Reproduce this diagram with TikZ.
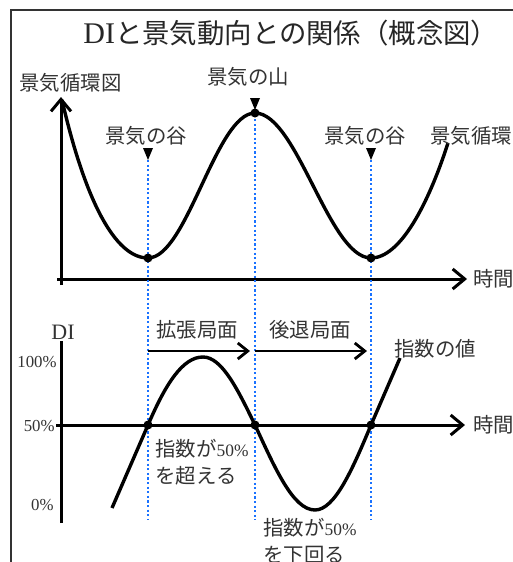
\documentclass[tikz,border=0pt]{standalone}
\usepackage{fontspec}
\setmainfont{Liberation Serif}
\newfontfamily\jp{Noto Sans CJK JP}
\usepackage{xcolor}
\usetikzlibrary{arrows.meta}

\definecolor{guide}{HTML}{1A72FF}
\newcommand{\latn}[1]{{\rmfamily\fontsize{8.7}{13.5}\selectfont #1}}

\begin{document}
\begin{tikzpicture}[
    x=0.5pt, y=-0.5pt,
    lbl/.style={font=\jp\fontsize{10.2}{13.5}\selectfont, text=black!80, inner sep=0pt, anchor=west},
    tick/.style={font=\fontsize{8.4}{10}\selectfont, text=black!80, inner sep=0pt, anchor=east},
    axis/.style={line width=1.5pt, -{Straight Barb[length=6pt, width=10pt]}},
    curve/.style={line width=1.7pt},
    dot/.style={circle, fill, inner sep=0pt, minimum size=4.5pt},
    guideline/.style={guide, line width=1.3pt, dash pattern=on 1.1pt off 1.2pt},
    phase/.style={line width=1.4pt, -{Straight Barb[length=5pt, width=8pt]}},
]
\clip (0,0) rectangle (513,562);
\draw[black!80, line width=0.7pt] (11,10) rectangle (600,620);

% Title
\node[inner sep=0pt, anchor=west, text=black!85] (title) at (83,33)
  {\fontsize{15}{18}\selectfont DI\jp\fontsize{13.7}{18}\selectfont と景気動向との関係（概念図）};

% Upper chart: business cycle
\coordinate (ty0) at (61,285);
\coordinate (ty1) at (61,97);
\coordinate (tx0) at (57,279);
\coordinate (tx1) at (467,279);
\draw[axis] (ty0) -- (ty1);
\draw[axis] (tx0) -- (tx1);
\node[lbl] (cyc) at (19,83) {景気循環図};
\node[lbl] (time1) at (473,279) {時間};

\coordinate (s1) at (62,100);
\coordinate (v1) at (148,258);
\coordinate (p1) at (255,113);
\coordinate (v2) at (371,258);
\coordinate (e1) at (448,143);
\draw[curve] (s1) .. controls (85,200) and (115,258) .. (v1)
  .. controls (187,258) and (216,113) .. (p1)
  .. controls (297,113) and (329,258) .. (v2)
  .. controls (400,258) and (428,205) .. (e1);
\node[lbl] (cyc2) at (430,136) {景気循環};

\node[lbl] (valley1) at (105,136) {景気の谷};
\node[lbl] (peak) at (207,77) {景気の山};
\node[lbl] (valley2) at (324,136) {景気の谷};

% markers and guide lines
\coordinate (m1) at (148,160);
\coordinate (m2) at (255,110);
\coordinate (m3) at (371,160);
\coordinate (d1) at (148,520);
\coordinate (d2) at (255,520);
\coordinate (d3) at (371,520);
\foreach \m in {m1,m2,m3}
  \fill (\m) ++(-5,-12) -- ++(10,0) -- ++(-5,12) -- cycle;
\draw[guideline] (m1) -- (d1);
\draw[guideline] (m2) -- (d2);
\draw[guideline] (m3) -- (d3);

\node[dot] (dv1) at (v1) {};
\node[dot] (dp1) at (p1) {};
\node[dot] (dv2) at (v2) {};

% Lower chart: DI
\coordinate (by0) at (61,523);
\coordinate (by1) at (61,341);
\coordinate (bx0) at (56,425);
\coordinate (bx1) at (465,425);
\draw[line width=1.5pt] (by0) -- (by1);
\draw[axis] (bx0) -- (bx1);
\node[inner sep=0pt, text=black!80, font=\fontsize{11}{13}\selectfont] (di) at (63,332) {DI};
\node[tick] (t100) at (57,362) {100\%};
\node[tick] (t50) at (55,426) {50\%};
\node[tick] (t0) at (54,505) {0\%};
\node[lbl] (time2) at (473,425) {時間};

\coordinate (b0) at (112,508);
\coordinate (c1) at (148,425);
\coordinate (pk) at (203,357);
\coordinate (c2) at (255,425);
\coordinate (tr) at (315,510);
\coordinate (c3) at (371,425);
\coordinate (b1) at (400,358);
\draw[curve] (b0) -- (c1) .. controls (166,383) and (183,357) .. (pk)
  .. controls (222,357) and (238,390) .. (c2)
  .. controls (275,468) and (293,510) .. (tr)
  .. controls (335,510) and (353,468) .. (c3) -- (b1);
\node[dot] (dc1) at (c1) {};
\node[dot] (dc2) at (c2) {};
\node[dot] (dc3) at (c3) {};
\node[lbl] (value) at (394,349) {指数の値};

% phases
\coordinate (a1) at (148,351);
\coordinate (a2) at (250,351);
\coordinate (a3) at (255,351);
\coordinate (a4) at (367,351);
\draw[phase] (a1) -- (a2);
\draw[phase] (a3) -- (a4);
\node[lbl] (expand) at (156,330) {拡張局面};
\node[lbl] (recess) at (269,330) {後退局面};

\node[lbl, align=left] (above50) at (155,462) {指数が\latn{50\%}\\を超える};
\node[lbl, align=left] (below50) at (263,541) {指数が\latn{50\%}\\を下回る};

\end{tikzpicture}
\end{document}
